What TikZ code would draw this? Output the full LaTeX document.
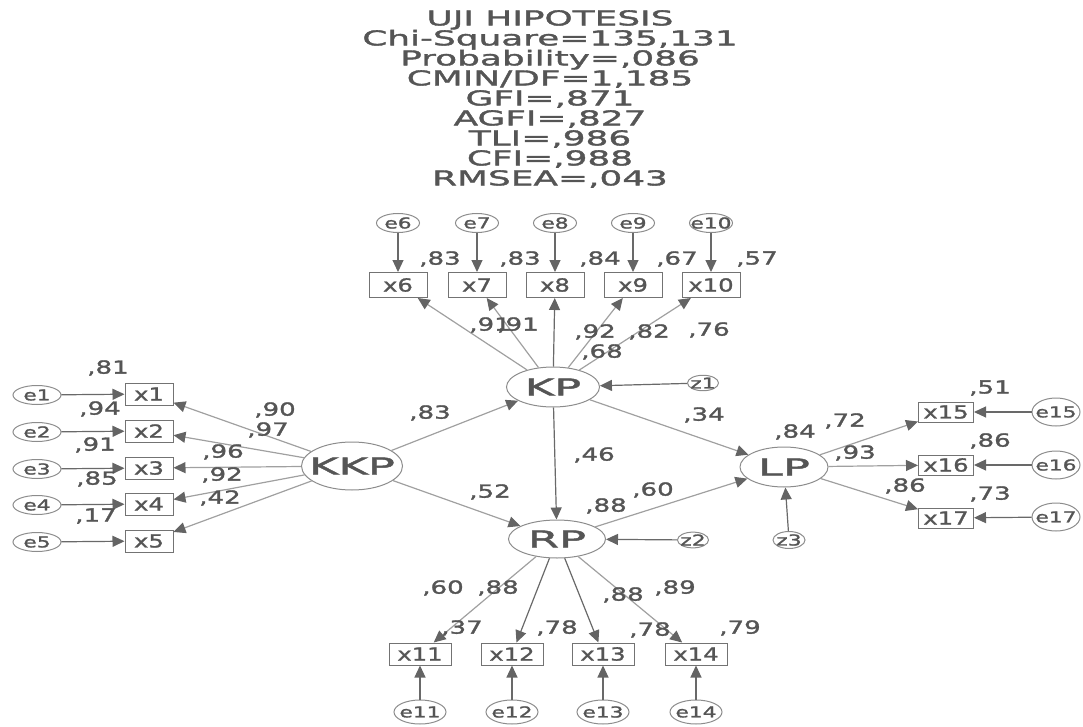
\documentclass[tikz,border=0pt]{standalone}
\usepackage{fontspec}
\newfontfamily\amosfont{DejaVu Sans}[FakeStretch=1.45,FakeBold=1.6]
\newfontfamily\boxfont{DejaVu Sans}[FakeStretch=1.35,FakeBold=1.4]
\newfontfamily\titlefont{DejaVu Sans}[FakeStretch=1.75,FakeBold=1.8]
\newfontfamily\latfont{DejaVu Sans}[FakeStretch=1.95,FakeBold=2]
\usepackage{tikz}
\usetikzlibrary{arrows.meta,shapes.geometric}
\definecolor{amostext}{RGB}{85,85,85}
\definecolor{ovalgray}{RGB}{140,140,140}
\definecolor{boxgray}{RGB}{115,115,115}
\definecolor{pathgray}{RGB}{160,160,160}
\definecolor{errgray}{RGB}{105,105,105}
\definecolor{headgray}{RGB}{100,100,100}

\begin{document}
\begin{tikzpicture}[x=1pt,y=-1pt]
\tikzset{
  nogrow/.style={execute at begin node={\hbox to 0pt\bgroup\hss},execute at end node={\hss\egroup}},
  lat/.style={ellipse,draw=ovalgray,line width=1pt,inner sep=0pt,nogrow,text=amostext,font=\latfont\fontsize{23}{23}\selectfont},
  err/.style={ellipse,draw=ovalgray,line width=1pt,inner sep=0pt,nogrow,minimum width=45pt,minimum height=19pt,text=amostext,font=\amosfont\fontsize{15}{15}\selectfont},
  obs/.style={rectangle,draw=boxgray,line width=1pt,inner sep=0pt,minimum height=22pt,text=amostext,font=\boxfont\fontsize{18}{18}\selectfont},
  coef/.style={inner sep=0pt,text=amostext,font=\amosfont\fontsize{18}{18}\selectfont},
  arr/.style={-{Triangle[length=12pt,width=11pt,color=headgray]},line width=1.2pt,draw=pathgray},
  earr/.style={arr,draw=errgray}
}
\useasboundingbox (0,0) rectangle (1083,727);
\node (title) [anchor=north,align=center,inner sep=0pt,text=amostext,font=\titlefont\fontsize{20.5}{20}\selectfont] at (550,10)
  {UJI HIPOTESIS\\Chi-Square=135,131\\Probability=,086\\CMIN/DF=1,185\\GFI=,871\\AGFI=,827\\TLI=,986\\CFI=,988\\RMSEA=,043};

% latent variables
\node (kkp)[lat,minimum width=101pt,minimum height=48pt] at (352,466) {KKP};
\node (kp)[lat,minimum width=93pt,minimum height=40pt] at (553,387) {KP};
\node (rp)[lat,minimum width=97pt,minimum height=38pt] at (557,539) {RP};
\node (lp)[lat,minimum width=88pt,minimum height=40pt] at (784,467) {LP};
\node (z1)[err,minimum width=31pt,minimum height=14pt] at (703,383) {z1};
\node (z2)[err,minimum width=31pt,minimum height=14pt] at (693,540) {z2};
\node (z3)[err,minimum width=32pt,minimum height=17pt] at (789,540) {z3};

% KKP indicators
\node (x1)[obs,minimum width=48pt] at (149,394) {x1};
\node (x2)[obs,minimum width=48pt] at (149,431) {x2};
\node (x3)[obs,minimum width=48pt] at (149,468) {x3};
\node (x4)[obs,minimum width=48pt] at (149,504) {x4};
\node (x5)[obs,minimum width=48pt] at (149,541) {x5};
\node (e1)[err,minimum width=48pt] at (37,395) {e1};
\node (e2)[err,minimum width=48pt] at (37,432) {e2};
\node (e3)[err,minimum width=48pt] at (37,469) {e3};
\node (e4)[err,minimum width=48pt] at (37,505) {e4};
\node (e5)[err,minimum width=48pt] at (37,542) {e5};

% KP indicators
\node (x6)[obs,minimum width=58pt,minimum height=25pt] at (398,285) {x6};
\node (x7)[obs,minimum width=58pt,minimum height=25pt] at (477,285) {x7};
\node (x8)[obs,minimum width=58pt,minimum height=25pt] at (555,285) {x8};
\node (x9)[obs,minimum width=58pt,minimum height=25pt] at (633,285) {x9};
\node (x10)[obs,minimum width=58pt,minimum height=25pt] at (711,285) {x10};
\node (e6)[err,minimum width=43pt] at (398,223) {e6};
\node (e7)[err,minimum width=43pt] at (477,223) {e7};
\node (e8)[err,minimum width=43pt] at (555,223) {e8};
\node (e9)[err,minimum width=43pt] at (633,223) {e9};
\node (e10)[err,minimum width=43pt] at (711,223) {e10};

% RP indicators
\node (x11)[obs,minimum width=62pt] at (420,654) {x11};
\node (x12)[obs,minimum width=62pt] at (512,654) {x12};
\node (x13)[obs,minimum width=62pt] at (603,654) {x13};
\node (x14)[obs,minimum width=62pt] at (696,654) {x14};
\node (e11)[err,minimum width=52pt,minimum height=24pt] at (420,712) {e11};
\node (e12)[err,minimum width=52pt,minimum height=24pt] at (512,712) {e12};
\node (e13)[err,minimum width=52pt,minimum height=24pt] at (603,712) {e13};
\node (e14)[err,minimum width=52pt,minimum height=24pt] at (696,712) {e14};

% LP indicators
\node (x15)[obs,minimum width=55pt,minimum height=20pt] at (946,412) {x15};
\node (x16)[obs,minimum width=55pt,minimum height=20pt] at (946,465) {x16};
\node (x17)[obs,minimum width=55pt,minimum height=20pt] at (946,518) {x17};
\node (e15)[err,minimum width=48pt,minimum height=28pt] at (1056,412) {e15};
\node (e16)[err,minimum width=48pt,minimum height=28pt] at (1056,465) {e16};
\node (e17)[err,minimum width=48pt,minimum height=28pt] at (1056,517) {e17};

% paths
\draw[arr](kkp)--(kp); \draw[arr](kkp)--(rp); \draw[earr](kp)--(rp);
\draw[arr](kp)--(lp); \draw[arr](rp)--(lp);
\draw[earr](z1)--(kp); \draw[earr](z2)--(rp); \draw[earr](z3)--(lp);
\draw[arr](kkp)--(x1); \draw[arr](kkp)--(x2); \draw[arr](kkp)--(x3); \draw[arr](kkp)--(x4); \draw[arr](kkp)--(x5);
\draw[earr](e1)--(x1); \draw[earr](e2)--(x2); \draw[earr](e3)--(x3); \draw[earr](e4)--(x4); \draw[earr](e5)--(x5);
\draw[arr](kp)--(x6); \draw[arr](kp)--(x7); \draw[earr](kp)--(x8); \draw[arr](kp)--(x9); \draw[arr](kp)--(x10);
\draw[earr](e6)--(x6); \draw[earr](e7)--(x7); \draw[earr](e8)--(x8); \draw[earr](e9)--(x9); \draw[earr](e10)--(x10);
\draw[arr](rp)--(x11); \draw[earr](rp)--(x12); \draw[earr](rp)--(x13); \draw[arr](rp)--(x14);
\draw[earr](e11)--(x11); \draw[earr](e12)--(x12); \draw[earr](e13)--(x13); \draw[earr](e14)--(x14);
\draw[arr](lp)--(x15); \draw[arr](lp)--(x16); \draw[arr](lp)--(x17);
\draw[earr](e15)--(x15); \draw[earr](e16)--(x16); \draw[earr](e17)--(x17);

% estimates
\node (kkpkp)[coef] at (430,413) {,83};
\node (kkprp)[coef] at (490,492) {,52};
\node (kprp)[coef] at (594,455) {,46};
\node (kplp)[coef] at (704,415) {,34};
\node (rplp)[coef] at (653,490) {,60};
\node (rkp)[coef] at (602,352) {,68};
\node (rrp)[coef] at (606,506) {,88};
\node (rlp)[coef] at (795,432) {,84};
\node (k1)[coef] at (275,410) {,90};
\node (k2)[coef] at (268,430) {,97};
\node (k3)[coef] at (223,452) {,96};
\node (k4)[coef] at (222,475) {,92};
\node (k5)[coef] at (220,498) {,42};
\node (r1)[coef] at (108,368) {,81};
\node (r2)[coef] at (100,409) {,94};
\node (r3)[coef] at (95,445) {,91};
\node (r4)[coef] at (97,479) {,85};
\node (r5)[coef] at (96,516) {,17};
\node (p6)[coef] at (490,325) {,91};
\node (p7)[coef] at (518,325) {,91};
\node (p8)[coef] at (595,332) {,92};
\node (p9)[coef] at (649,332) {,82};
\node (p10)[coef] at (709,330) {,76};
\node (r6)[coef] at (440,259) {,83};
\node (r7)[coef] at (520,259) {,83};
\node (r8)[coef] at (600,259) {,84};
\node (r9)[coef] at (677,259) {,67};
\node (r10)[coef] at (757,259) {,57};
\node (q11)[coef] at (443,588) {,60};
\node (q12)[coef] at (498,588) {,88};
\node (q13)[coef] at (623,595) {,88};
\node (q14)[coef] at (675,588) {,89};
\node (r11)[coef] at (462,628) {,37};
\node (r12)[coef] at (557,628) {,78};
\node (r13)[coef] at (650,630) {,78};
\node (r14)[coef] at (740,628) {,79};
\node (s15)[coef] at (845,421) {,72};
\node (s16)[coef] at (855,453) {,93};
\node (s17)[coef] at (905,486) {,86};
\node (r15)[coef] at (990,388) {,51};
\node (r16)[coef] at (990,441) {,86};
\node (r17)[coef] at (990,494) {,73};
\end{tikzpicture}
\end{document}
